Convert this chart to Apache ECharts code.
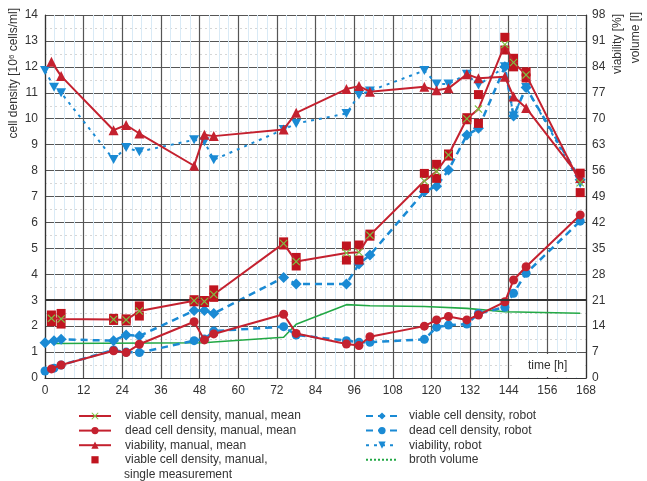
<!DOCTYPE html>
<html>
<head>
<meta charset="utf-8">
<script src="https://cdn.jsdelivr.net/npm/echarts@6/dist/echarts.min.js"></script>
<style>
  html, body { margin: 0; padding: 0; background: #fff; }
  #chart { width: 647px; height: 481px; }
</style>
</head>
<body>
<div id="chart"></div>
<script>
// Sampling times [h]
const manualTime = [2, 5, 21.3, 25.2, 29.3, 46.3, 49.5, 52.4, 74.1, 78, 93.6, 97.5, 100.9, 117.8, 121.6, 125.3, 131, 134.6, 142.8, 145.5, 149.4, 166.2];
const robotTime  = [0, 2.8, 5, 21.3, 25.2, 29.3, 46.3, 49.5, 52.4, 74.1, 78, 93.6, 97.5, 100.9, 117.8, 121.6, 125.3, 131, 134.6, 142.8, 145.5, 149.4, 166.2];

// Manual counts [10^6 cells/ml] and viability [%]
const viableManualMean = [2.30, 2.28, 2.26, 2.24, 2.58, 2.98, 2.95, 3.22, 5.19, 4.49, 4.82, 4.85, 5.51, 7.60, 7.97, 8.60, 10.00, 10.37, 12.86, 12.17, 11.69, 7.53];
const viableManualHigh = [2.43, 2.49, 2.30, 2.28, 2.78, 3.02, 2.99, 3.40, 5.25, 4.65, 5.09, 5.13, 5.55, 7.89, 8.24, 8.64, 10.04, 10.93, 13.14, 12.33, 11.81, 7.90];
const viableManualLow  = [2.17, 2.08, 2.22, 2.20, 2.39, 2.94, 2.91, 3.11, 5.13, 4.32, 4.55, 4.55, 5.47, 7.31, 7.70, 8.56, 9.96, 9.82, 12.65, 12.00, 11.57, 7.15];
const deadManualMean   = [0.35, 0.50, 1.05, 0.98, 1.30, 2.17, 1.47, 1.70, 2.46, 1.72, 1.31, 1.25, 1.59, 2.00, 2.24, 2.37, 2.24, 2.43, 2.94, 3.78, 4.29, 6.29];
const viabilityManual  = [85.4, 81.5, 66.9, 68.3, 66.0, 57.3, 65.7, 65.3, 67.1, 71.6, 78.0, 78.8, 77.3, 78.6, 77.7, 78.2, 82.0, 80.9, 81.3, 76.0, 72.9, 54.0];

// Robot measurements
const viableRobot    = [1.36, 1.44, 1.49, 1.44, 1.66, 1.62, 2.60, 2.60, 2.49, 3.88, 3.63, 3.63, 4.40, 4.74, 7.19, 7.40, 8.02, 9.37, 9.63, 12.00, 10.10, 11.20, 7.65];
const deadRobot      = [0.27, 0.38, 0.50, 1.08, 1.00, 0.98, 1.44, 1.50, 1.81, 1.98, 1.66, 1.44, 1.38, 1.38, 1.49, 1.96, 2.04, 2.08, 2.49, 2.73, 3.27, 4.04, 6.05];
const viabilityRobot = [83.0, 78.5, 77.0, 59.0, 62.2, 61.1, 64.3, 63.8, 58.9, 67.1, 68.7, 71.4, 76.4, 77.5, 83.0, 79.4, 79.4, 82.0, 79.1, 84.0, 70.7, 78.4, 52.5];

// Broth volume [l]
const volumeTime = [3, 49.5, 52.4, 74.1, 78, 93.6, 100.9, 117.8, 131, 142.8, 166.2];
const volume     = [9.3, 9.5, 9.7, 11.0, 14.5, 19.8, 19.5, 19.3, 18.8, 17.9, 17.5];

// Axis ticks
const timeTicks = { min: 0, max: 168, step: 12 };
const densityTicks = { min: 0, max: 14, step: 1 };
const percentTicks = { min: 0, max: 98, step: 7 };

const RED = '#c4212f';
const BLUE = '#1a8ad4';
const GREEN = '#22a845';
const XGREEN = '#7cc242';
const FONT = 'Liberation Sans, Arial, sans-serif';

const pairs = (t, v) => t.map((x, i) => [x, v[i]]);

const crossSymbol = 'path://M1,0 L5,4 L9,0 L10,1 L6,5 L10,9 L9,10 L5,6 L1,10 L0,9 L4,5 L0,1 Z';
const downTriangle = 'path://M0,0 L10,0 L5,9 Z';

const singles = pairs(manualTime, viableManualHigh).concat(pairs(manualTime, viableManualLow));
const SINGLE_NAME = 'viable cell density, manual, single measurement';

const chart = echarts.init(document.getElementById('chart'), null, { renderer: 'canvas' });

const legendText = { color: '#333', fontSize: 12, fontFamily: FONT, lineHeight: 14 };

const option = {
  animation: false,
  backgroundColor: '#fff',
  textStyle: { fontFamily: FONT },
  grid: { left: 45, right: 61, top: 15, bottom: 103 },
  xAxis: {
    type: 'value',
    min: timeTicks.min, max: timeTicks.max, interval: timeTicks.step,
    axisLine: { lineStyle: { color: '#333', width: 1.2 } },
    axisTick: { show: false },
    axisLabel: { color: '#333', fontSize: 12, margin: 7, fontFamily: FONT },
    splitLine: { show: true, lineStyle: { color: '#555', width: 1.2 } },
    minorTick: { show: false, splitNumber: 4 },
    minorSplitLine: { show: true, lineStyle: { color: '#d9eaf6', width: 1 } }
  },
  yAxis: [
    {
      type: 'value',
      min: densityTicks.min, max: densityTicks.max, interval: densityTicks.step,
      axisLine: { show: true, lineStyle: { color: '#333', width: 1.2 } },
      axisTick: { show: false },
      axisLabel: { color: '#333', fontSize: 12, margin: 7, fontFamily: FONT },
      splitLine: { show: true, lineStyle: { color: '#555', width: 1.2 } },
      minorTick: { show: false, splitNumber: 2 },
      minorSplitLine: { show: true, lineStyle: { color: '#d6d6d6', width: 1, type: [2, 3] } }
    },
    {
      type: 'value',
      position: 'right',
      min: percentTicks.min, max: percentTicks.max, interval: percentTicks.step,
      axisLine: { show: true, lineStyle: { color: '#333', width: 1.2 } },
      axisTick: { show: false },
      axisLabel: { color: '#333', fontSize: 12, margin: 6, fontFamily: FONT },
      splitLine: { show: false }
    }
  ],
  legend: [
    {
      orient: 'vertical', left: 73, top: 404,
      itemWidth: 32, itemHeight: 9, itemGap: 0.6,
      textStyle: Object.assign({ padding: [0, 0, 0, 9] }, legendText),
      formatter: n => n === SINGLE_NAME ? 'viable cell density, manual,' : n,
      data: [
        'viable cell density, manual, mean',
        'dead cell density, manual, mean',
        'viability, manual, mean',
        SINGLE_NAME
      ]
    },
    {
      orient: 'vertical', left: 360, top: 404,
      itemWidth: 32, itemHeight: 9, itemGap: 0.6,
      textStyle: Object.assign({ padding: [0, 0, 0, 6] }, legendText),
      data: [
        'viable cell density, robot',
        'dead cell density, robot',
        'viability, robot',
        { name: 'broth volume', lineStyle: { type: [2, 2] }, itemStyle: { opacity: 0 } }
      ]
    }
  ],
  graphic: [
    {
      type: 'rect', silent: true, z: 100,
      shape: { x: 514, y: 354, width: 71, height: 23 },
      style: { fill: '#fff' }
    },
    {
      type: 'text', silent: true, z: 101,
      x: 528, y: 366,
      style: { text: 'time [h]', fill: '#333', font: '12px ' + FONT, textVerticalAlign: 'middle' }
    },
    {
      type: 'text', silent: true, z: 101,
      x: 124, y: 475,
      style: { text: 'single measurement', fill: '#333', font: '12px ' + FONT, textVerticalAlign: 'middle' }
    },
    {
      type: 'text', silent: true, z: 101,
      x: 14, y: 8, rotation: Math.PI / 2,
      style: {
        text: 'cell density [10{sup|6} cells/ml]',
        fill: '#333', font: '12px ' + FONT,
        textAlign: 'right', textVerticalAlign: 'middle',
        rich: { sup: { fontSize: 8, verticalAlign: 'top', fill: '#333', padding: [0, 0, 5, 0] } }
      }
    },
    {
      type: 'text', silent: true, z: 101,
      x: 618, y: 14, rotation: Math.PI / 2,
      style: { text: 'viability [%]', fill: '#333', font: '12px ' + FONT, textAlign: 'right', textVerticalAlign: 'middle' }
    },
    {
      type: 'text', silent: true, z: 101,
      x: 636, y: 12, rotation: Math.PI / 2,
      style: { text: 'volume [l]', fill: '#333', font: '12px ' + FONT, textAlign: 'right', textVerticalAlign: 'middle' }
    }
  ],
  series: [
    {
      name: 'broth volume', type: 'line', yAxisIndex: 1, z: 2,
      data: pairs(volumeTime, volume),
      symbol: 'none',
      lineStyle: { color: GREEN, width: 1.6 },
      itemStyle: { color: GREEN },
      markLine: {
        silent: true, symbol: 'none', label: { show: false },
        lineStyle: { color: '#333', width: 2.2, type: 'solid' },
        data: [{ yAxis: 21 }]
      }
    },
    {
      name: 'viability, robot', type: 'line', yAxisIndex: 1, z: 3,
      data: pairs(robotTime, viabilityRobot),
      symbol: downTriangle, symbolSize: [10, 9],
      lineStyle: { color: BLUE, width: 2, type: [3, 5] },
      itemStyle: { color: BLUE }
    },
    {
      name: 'dead cell density, robot', type: 'line', yAxisIndex: 0, z: 3,
      data: pairs(robotTime, deadRobot),
      symbol: 'circle', symbolSize: 9,
      lineStyle: { color: BLUE, width: 2.5, type: [7, 5] },
      itemStyle: { color: BLUE }
    },
    {
      name: 'viable cell density, robot', type: 'line', yAxisIndex: 0, z: 3,
      data: pairs(robotTime, viableRobot),
      symbol: 'diamond', symbolSize: 11,
      lineStyle: { color: BLUE, width: 2.5, type: [7, 5] },
      itemStyle: { color: BLUE }
    },
    {
      name: 'viability, manual, mean', type: 'line', yAxisIndex: 1, z: 4,
      data: pairs(manualTime, viabilityManual),
      symbol: 'triangle', symbolSize: 10,
      lineStyle: { color: RED, width: 2 },
      itemStyle: { color: RED }
    },
    {
      name: 'dead cell density, manual, mean', type: 'line', yAxisIndex: 0, z: 4,
      data: pairs(manualTime, deadManualMean),
      symbol: 'circle', symbolSize: 9,
      lineStyle: { color: RED, width: 2 },
      itemStyle: { color: RED }
    },
    {
      name: SINGLE_NAME, type: 'line', yAxisIndex: 0, z: 5,
      data: singles,
      symbol: 'rect', symbolSize: 9,
      lineStyle: { opacity: 0, width: 0 },
      itemStyle: { color: '#c0141f' }
    },
    {
      name: 'viable cell density, manual, mean', type: 'line', yAxisIndex: 0, z: 6,
      data: pairs(manualTime, viableManualMean),
      symbol: crossSymbol, symbolSize: 8,
      lineStyle: { color: RED, width: 2 },
      itemStyle: { color: XGREEN }
    }
  ]
};

chart.setOption(option);
</script>
</body>
</html>
